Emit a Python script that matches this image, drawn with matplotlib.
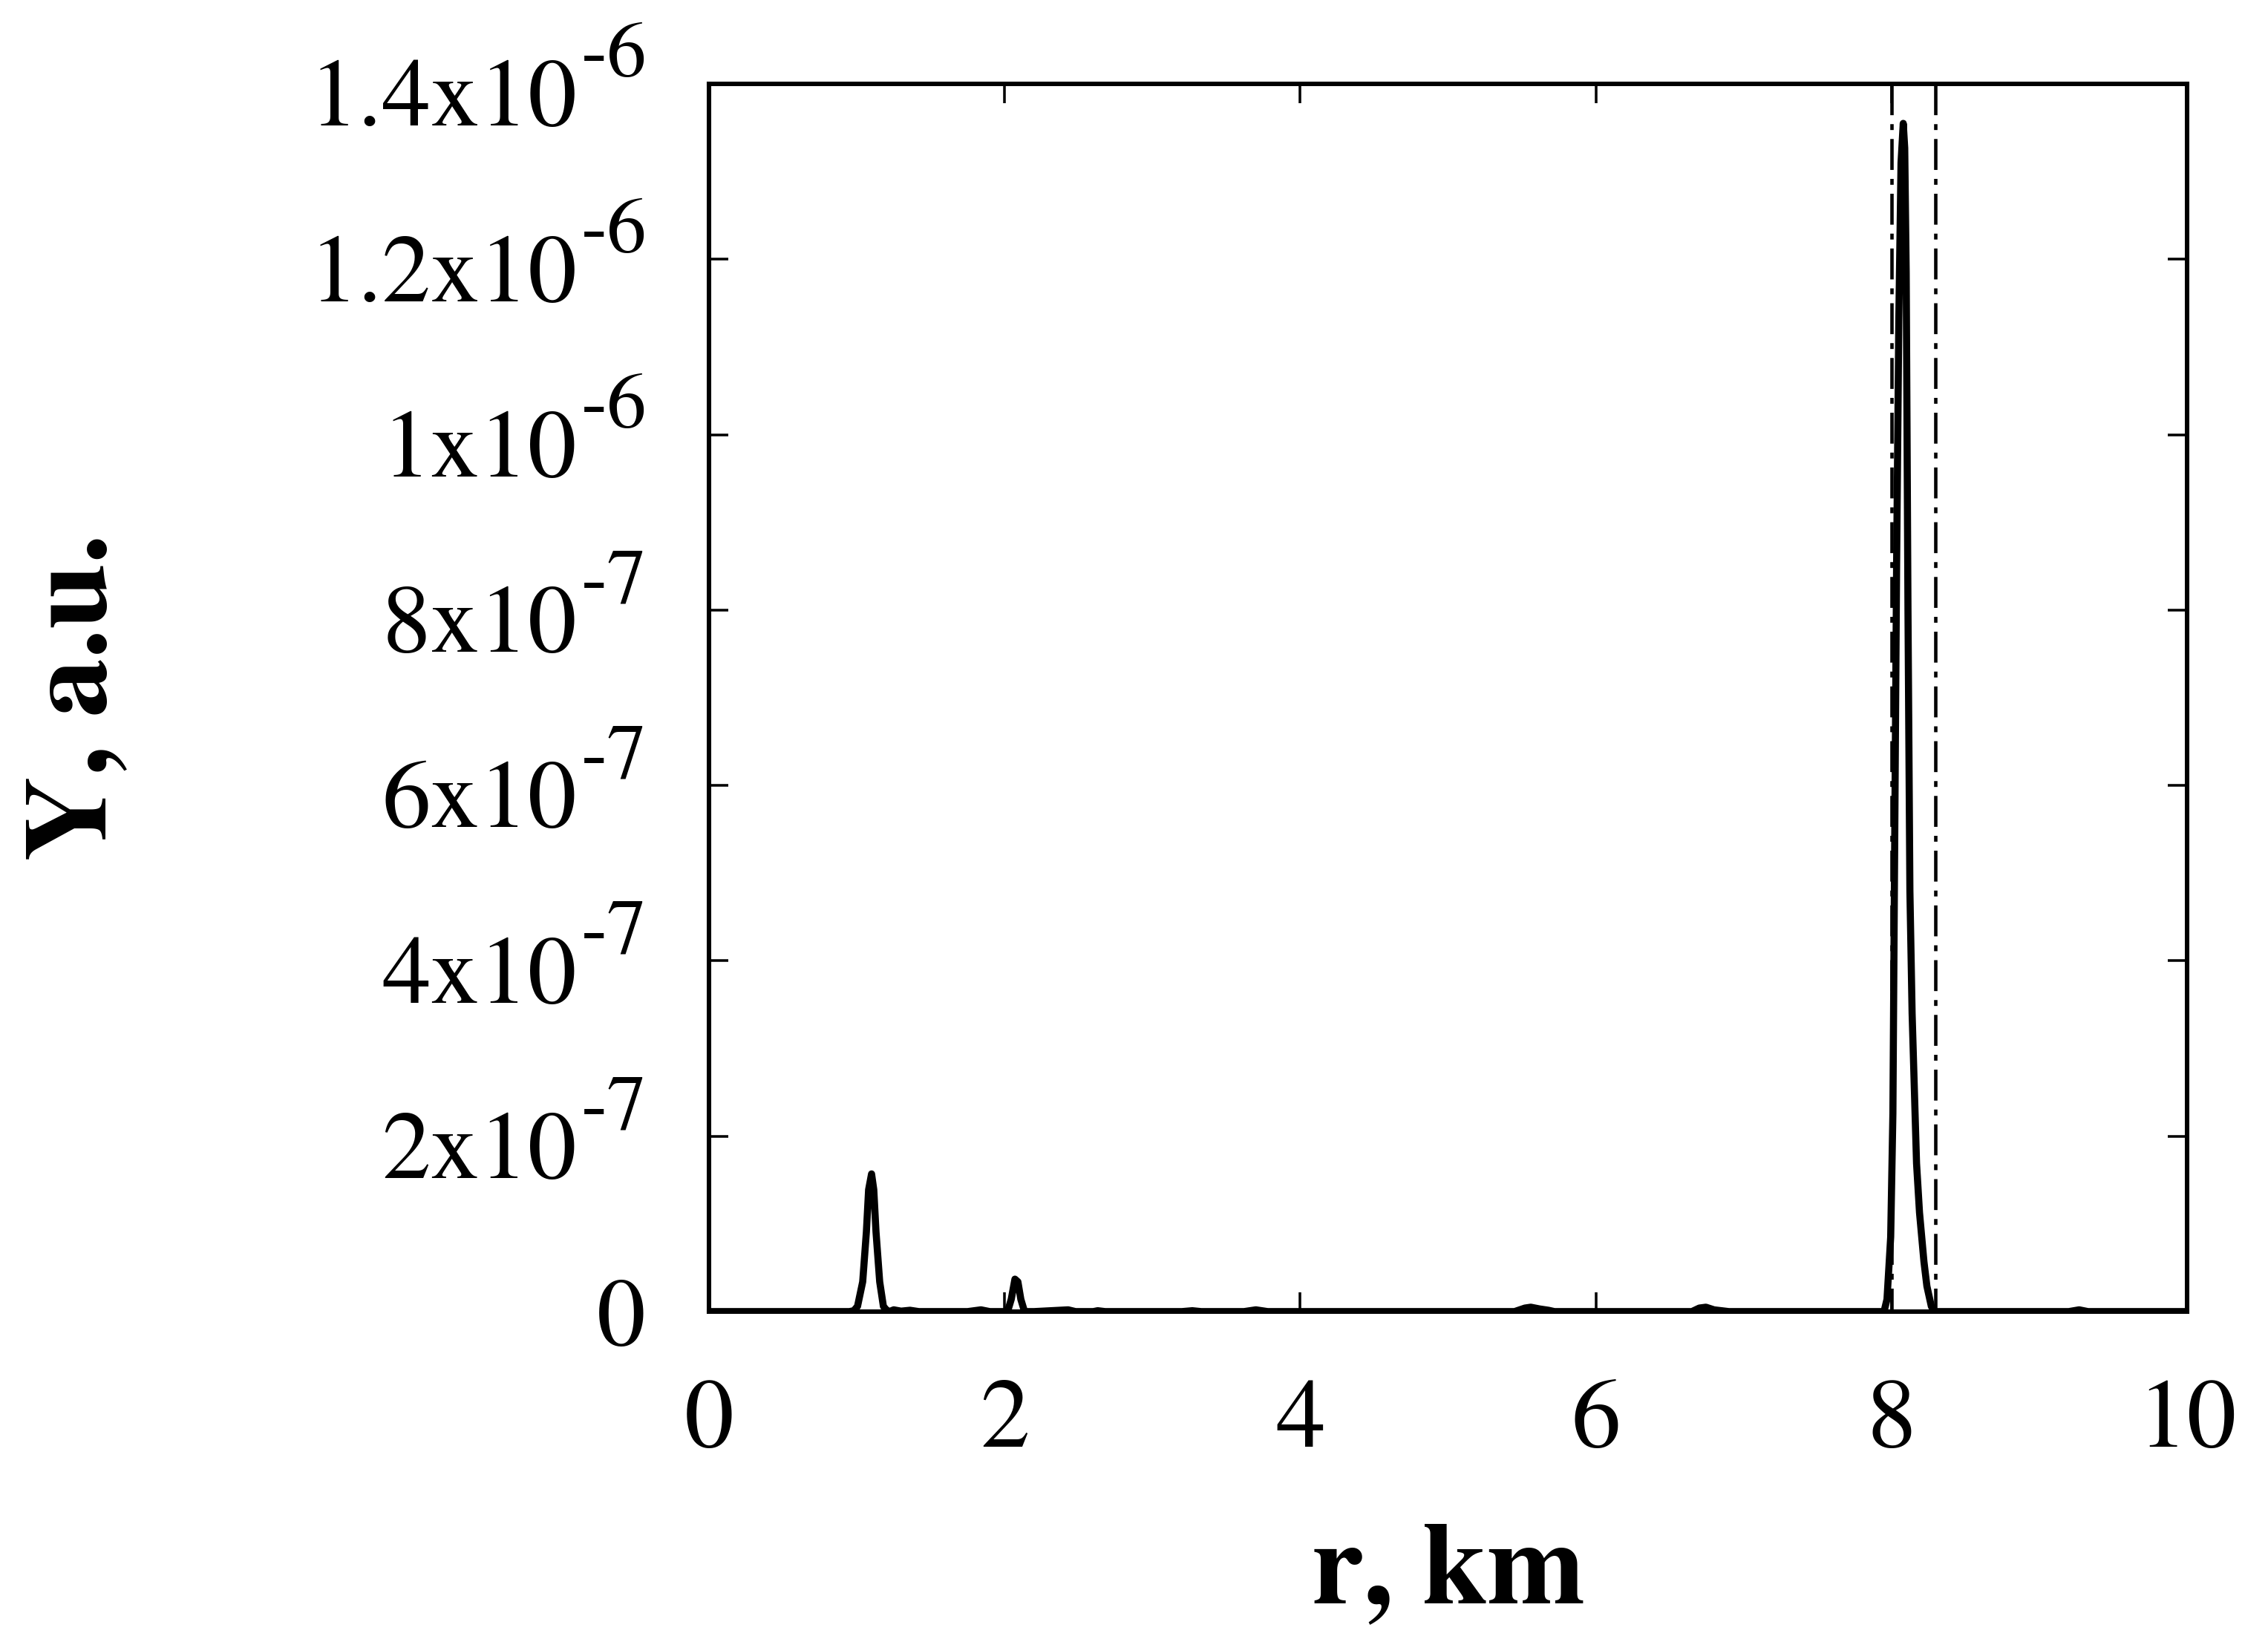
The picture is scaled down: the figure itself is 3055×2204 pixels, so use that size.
import matplotlib
matplotlib.use("Agg")
import matplotlib.pyplot as plt
import numpy as np

plt.rcParams["font.family"] = ["STIXGeneral", "DejaVu Serif"]
plt.rcParams["lines.scale_dashes"] = False

# distance, km
R_KM = [0.0, 0.95, 0.98, 1.005, 1.04, 1.065, 1.08, 1.10, 1.115, 1.13, 1.155,
        1.18, 1.205, 1.22, 1.25, 1.30, 1.36, 1.42, 1.75, 1.84, 1.90, 2.02,
        2.045, 2.07, 2.09, 2.11, 2.135, 2.20, 2.43, 2.48, 2.60, 2.63, 2.68,
        3.20, 3.27, 3.33, 3.62, 3.70, 3.78, 5.45, 5.52, 5.56, 5.62, 5.68,
        5.72, 6.65, 6.70, 6.745, 6.80, 6.85, 6.90, 7.90, 7.95, 7.97, 7.995,
        8.01, 8.02, 8.035, 8.05, 8.065, 8.08, 8.09, 8.10, 8.112, 8.125, 8.14,
        8.16, 8.17, 8.19, 8.22, 8.24, 8.27, 8.29, 9.20, 9.27, 9.33, 10.0]
# signal, units of 1e-7 a.u.
Y_E7 = [0.0, 0.0, 0.01, 0.06, 0.34, 0.91, 1.39, 1.57, 1.39, 0.91, 0.34,
        0.06, 0.01, 0.0, 0.02, 0.005, 0.015, 0.0, 0.0, 0.02, 0.0, 0.0,
        0.14, 0.37, 0.34, 0.14, 0.0, 0.0, 0.02, 0.0, 0.0, 0.01, 0.0,
        0.0, 0.01, 0.0, 0.0, 0.02, 0.0, 0.0, 0.04, 0.05, 0.03, 0.015,
        0.0, 0.0, 0.04, 0.05, 0.02, 0.01, 0.0, 0.0, 0.0, 0.14, 0.85,
        2.26, 4.8, 8.5, 11.3, 13.1, 13.55, 13.27, 11.85, 8.0, 4.8, 3.4,
        2.26, 1.69, 1.13, 0.57, 0.29, 0.06, 0.0, 0.0, 0.02, 0.0, 0.0]

MARK_R = [8.0, 8.3]

X_TICKS = [0, 2, 4, 6, 8, 10]
Y_TICKS = [0, 2e-7, 4e-7, 6e-7, 8e-7, 1e-6, 1.2e-6, 1.4e-6]
Y_BASE = ["0", "2x10", "4x10", "6x10", "8x10", "1x10", "1.2x10", "1.4x10"]
Y_EXP = ["", "-7", "-7", "-7", "-7", "-6", "-6", "-6"]

fig = plt.figure(figsize=(3055 / 300, 2204 / 300), dpi=300)
ax = fig.add_axes([0.3126, 0.1983, 0.6517, 0.7504])

y = np.array(Y_E7) * 1e-7
ax.plot(R_KM, y, color="black", lw=2.3, solid_joinstyle="round", zorder=3)
for xm in MARK_R:
    ax.plot([xm, xm], [1.4e-6, 0], color="black", lw=1.1,
            linestyle=(0, (10, 2.9, 1.9, 2.9)), zorder=2)

ax.set_xlim(0, 10)
ax.set_ylim(0, 1.4e-6)
ax.set_xticks(X_TICKS)
ax.set_xticklabels([str(t) for t in X_TICKS])
ax.set_yticks(Y_TICKS)
ax.set_yticklabels([])

for s in ax.spines.values():
    s.set_linewidth(1.45)
ax.tick_params(direction="in", length=6.2, width=0.85, top=True, right=True)
ax.tick_params(axis="x", labelsize=32, pad=22)

# y tick labels in gnuplot style: base text plus raised exponent
renderer = fig.canvas.get_renderer()
PAD = 20
for v, base, ex in zip(Y_TICKS, Y_BASE, Y_EXP):
    if ex:
        te = ax.annotate(ex, xy=(0, v), xycoords=("axes fraction", "data"),
                         xytext=(-PAD, -13.5 + 15.8), textcoords="offset points",
                         ha="right", va="baseline", fontsize=25.5,
                         annotation_clip=False)
        w = te.get_window_extent(renderer).width * 72 / fig.dpi
        ax.annotate(base, xy=(0, v), xycoords=("axes fraction", "data"),
                    xytext=(-PAD - w - 1.5, -13.5), textcoords="offset points",
                    ha="right", va="baseline", fontsize=31.5,
                    annotation_clip=False)
    else:
        ax.annotate(base, xy=(0, v), xycoords=("axes fraction", "data"),
                    xytext=(-PAD - 0.5, -10.8), textcoords="offset points",
                    ha="right", va="baseline", fontsize=31.5,
                    annotation_clip=False)

ax.set_xlabel("r, km", fontsize=38, fontweight="bold")
ax.xaxis.set_label_coords(0.6385, 0.0204, transform=fig.transFigure)
ax.xaxis.label.set_va("baseline")
ax.set_ylabel("Y, a.u.", fontsize=38, fontweight="bold")
ax.yaxis.set_label_coords(0.0465, 0.574, transform=fig.transFigure)
ax.yaxis.label.set_va("baseline")
ax.yaxis.label.set_rotation_mode("anchor")

fig.savefig("out.png", dpi=300)
